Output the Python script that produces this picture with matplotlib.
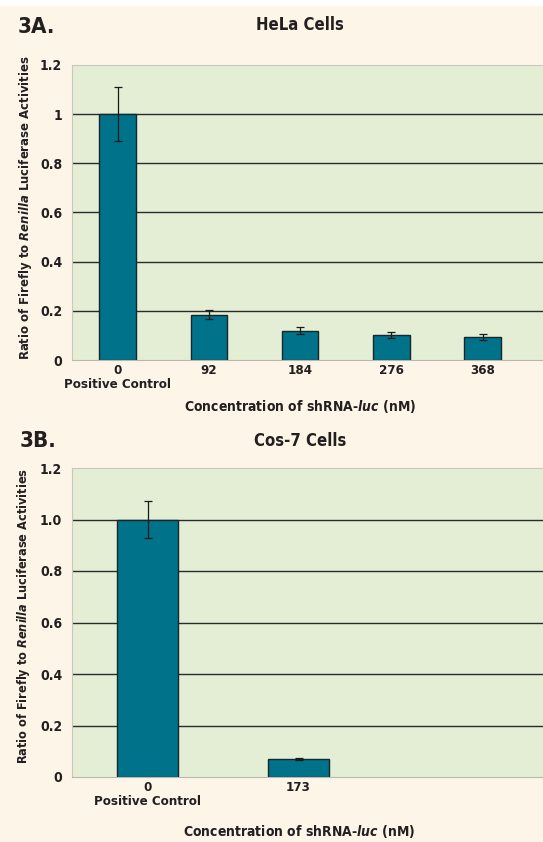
import numpy as np
import matplotlib
matplotlib.use("Agg")
import matplotlib.pyplot as plt

# data
hela_labels = ["0\nPositive Control", "92", "184", "276", "368"]
hela_ratio = [1.0, 0.185, 0.12, 0.10, 0.095]
hela_err = [0.11, 0.017, 0.015, 0.012, 0.012]
hela_yticks = [0, 0.2, 0.4, 0.6, 0.8, 1.0, 1.2]
hela_yticklabels = ["0", "0.2", "0.4", "0.6", "0.8", "1", "1.2"]

cos_labels = ["0\nPositive Control", "173"]
cos_ratio = [1.0, 0.07]
cos_err = [0.073, 0.005]
cos_yticks = [0, 0.2, 0.4, 0.6, 0.8, 1.0, 1.2]
cos_yticklabels = ["0", "0.2", "0.4", "0.6", "0.8", "1.0", "1.2"]

font = "DejaVu Sans"
plt.rcParams["font.family"] = [font]
plt.rcParams["font.weight"] = "bold"
plt.rcParams["font.stretch"] = "condensed"
plt.rcParams["mathtext.fontset"] = "custom"
plt.rcParams["mathtext.rm"] = font + ":weight=bold:stretch=condensed"
plt.rcParams["mathtext.it"] = font + ":style=italic:weight=bold:stretch=condensed"

bg = "#fdf6e8"
panel = "#e3eed4"
bar_c = "#00728a"
txt = "#231f20"

fig = plt.figure(figsize=(5.43, 8.42), dpi=100, facecolor=bg)
# white strip along the top edge
fig.patches.append(plt.Rectangle((0, 1 - 5 / 842), 1, 5 / 842, transform=fig.transFigure,
                                 color="white", zorder=0))


def draw(ax, labels, vals, errs, yticks, yticklabels, xmax):
    x = np.arange(len(vals))
    ax.set_facecolor(panel)
    ax.set_ylim(0, 1.2)
    ax.set_xlim(-0.5, xmax)
    for y in yticks[1:-1]:
        ax.axhline(y, color="#2b2b2b", lw=1.0, zorder=1)
    ax.bar(x, vals, width=0.4, color=bar_c, edgecolor="#15262c", lw=1.0, zorder=2)
    ax.errorbar(x, vals, yerr=errs, fmt="none", ecolor="#1a1a1a", elinewidth=0.9,
                capsize=3, capthick=0.9, zorder=3)
    for s in ["top", "left"]:
        ax.spines[s].set_color("#c8c8c0")
    ax.spines["right"].set_visible(False)
    ax.spines["bottom"].set_color("#b8b8b0")
    ax.set_yticks(yticks)
    ax.set_yticklabels(yticklabels, fontsize=10, color=txt)
    ax.set_xticks(x)
    ax.set_xticklabels(labels, fontsize=9.5, color=txt, linespacing=1.05)
    ax.tick_params(length=0, pad=3)
    ax.tick_params(axis="y", pad=7)


ax1 = fig.add_axes([72 / 543, 1 - 360 / 842, 1 - 72 / 543 + 0.02, 295 / 842])
draw(ax1, hela_labels, hela_ratio, hela_err, hela_yticks, hela_yticklabels, 4.78)
ax2 = fig.add_axes([72 / 543, 1 - 777 / 842, 1 - 72 / 543 + 0.02, 309 / 842])
draw(ax2, cos_labels, cos_ratio, cos_err, cos_yticks, cos_yticklabels, 2.69)

ylab = "Ratio of Firefly to $\\mathit{Renilla}$ Luciferase Activities"
xlab = "Concentration of shRNA-$\\mathit{luc}$ (nM)"

fig.text(18 / 543, 1 - 27 / 842, "3A.", fontsize=16, color=txt, va="center")
fig.text(300 / 543, 1 - 25 / 842, "HeLa Cells", fontsize=12, color=txt, ha="center", va="center")
fig.text(26 / 543, 1 - 208 / 842, ylab, fontsize=9.4, color=txt, rotation=90, ha="center", va="center")
fig.text(300 / 543, 1 - 406 / 842, xlab, fontsize=10, color=txt, ha="center", va="center")

fig.text(20 / 543, 1 - 441 / 842, "3B.", fontsize=16, color=txt, va="center")
fig.text(300 / 543, 1 - 441 / 842, "Cos-7 Cells", fontsize=12, color=txt, ha="center", va="center")
fig.text(24 / 543, 1 - 616 / 842, ylab, fontsize=9.1, color=txt, rotation=90, ha="center", va="center")
fig.text(299 / 543, 1 - 832 / 842, xlab, fontsize=10, color=txt, ha="center", va="center")

fig.savefig("out.png", dpi=100, facecolor=bg)
